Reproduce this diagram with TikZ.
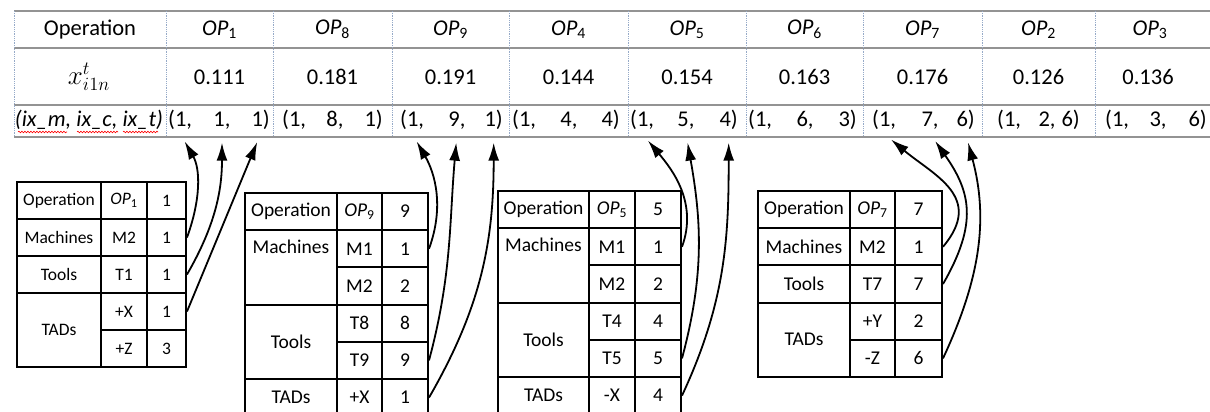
\documentclass[tikz,border=0pt]{standalone}
\usepackage{fontspec}
\setmainfont{Carlito}
\usetikzlibrary{arrows.meta,decorations.pathmorphing}
\definecolor{gridblue}{RGB}{150,170,200}

\begin{document}
\begin{tikzpicture}[x=1pt,y=1pt,
  hdr/.style={font=\fontsize{22.5}{27}\selectfont, inner sep=2pt},
  trip/.style={hdr, text height=16pt, text depth=5pt},
  cell/.style={draw, line width=2pt, anchor=north west, inner sep=0pt, minimum height=37.2pt, font=\fontsize{19.5}{23}\selectfont},
  smallcell/.style={cell, minimum height=37pt, font=\fontsize{17.5}{21}\selectfont},
  topcell/.style={text height=13pt, text depth=41.2pt},
  link/.style={-{Latex[length=18pt,width=11pt]}, line width=1.8pt, shorten >=9pt},
  rule/.style={gray!85, line width=1.5pt},
  sep/.style={densely dotted, gridblue, line width=0.8pt},
  squiggle/.style={red, line width=0.6pt, decorate, decoration={snake, amplitude=0.8pt, segment length=3pt}}]

\useasboundingbox (0,0) rectangle (1210,-412);
\clip (0,0) rectangle (1210,-412);

% top table
\draw [rule] (14,-11) -- (1210,-11);
\draw [rule] (14,-48) -- (1210,-48);
\draw [rule, line width=2.2pt] (14,-105) -- (1210,-105);
\draw [rule] (14,-137) -- (1210,-137);

\draw [sep] (14,-11) -- (14,-137);
\draw [sep] (166,-11) -- (166,-137);
\draw [sep] (273,-11) -- (273,-137);
\draw [sep] (392,-11) -- (392,-137);
\draw [sep] (509,-11) -- (509,-137);
\draw [sep] (628,-11) -- (628,-137);
\draw [sep] (746,-11) -- (746,-137);
\draw [sep] (863,-11) -- (863,-137);
\draw [sep] (982,-11) -- (982,-137);
\draw [sep] (1095,-11) -- (1095,-137);

\node [hdr] (opr) at (90,-29.5) {Operation};
\node [hdr] (op1) at (219.5,-29.5) {\textit{OP}\textsubscript{1}};
\node [hdr] (op8) at (332.5,-29.5) {\textit{OP}\textsubscript{8}};
\node [hdr] (op9) at (450.5,-29.5) {\textit{OP}\textsubscript{9}};
\node [hdr] (op4) at (568.5,-29.5) {\textit{OP}\textsubscript{4}};
\node [hdr] (op5) at (687,-29.5) {\textit{OP}\textsubscript{5}};
\node [hdr] (op6) at (804.5,-29.5) {\textit{OP}\textsubscript{6}};
\node [hdr] (op7) at (922.5,-29.5) {\textit{OP}\textsubscript{7}};
\node [hdr] (op2) at (1038.5,-29.5) {\textit{OP}\textsubscript{2}};
\node [hdr] (op3) at (1150,-29.5) {\textit{OP}\textsubscript{3}};

\node [hdr, scale=1.3] (xval) at (89,-77) {$x^{t}_{i1n}$};
\node [hdr] (v1) at (219.5,-77) {0.111};
\node [hdr] (v8) at (332.5,-77) {0.181};
\node [hdr] (v9) at (450.5,-77) {0.191};
\node [hdr] (v4) at (568.5,-77) {0.144};
\node [hdr] (v5) at (687,-77) {0.154};
\node [hdr] (v6) at (804.5,-77) {0.163};
\node [hdr] (v7) at (922.5,-77) {0.176};
\node [hdr] (v2) at (1038.5,-77) {0.126};
\node [hdr] (v3) at (1148,-77) {0.136};

\node [trip] (ixh) at (89,-121) {\textit{(ix\_m, ix\_c, ix\_t)}};
\draw [squiggle] (18,-132) -- (67,-132);
\draw [squiggle] (77,-132) -- (118,-132);
\draw [squiggle] (123,-132) -- (158,-132);

\node [trip, anchor=west] (c1a) at (166,-121) {(1,};
\node [trip] (c1b) at (222,-121) {1,};
\node [trip, anchor=east] (c1c) at (272,-121) {1)};
\node [trip, anchor=west] (c2a) at (280,-121) {(1,};
\node [trip] (c2b) at (335,-121) {8,};
\node [trip, anchor=east] (c2c) at (385,-121) {1)};
\node [trip, anchor=west] (c3a) at (398,-121) {(1,};
\node [trip] (c3b) at (457,-121) {9,};
\node [trip, anchor=east] (c3c) at (505,-121) {1)};
\node [trip, anchor=west] (c4a) at (510,-121) {(1,};
\node [trip] (c4b) at (569,-121) {4,};
\node [trip, anchor=east] (c4c) at (622,-121) {4)};
\node [trip, anchor=west] (c5a) at (628,-121) {(1,};
\node [trip] (c5b) at (686,-121) {5,};
\node [trip, anchor=east] (c5c) at (740,-121) {4)};
\node [trip, anchor=west] (c6a) at (746,-121) {(1,};
\node [trip] (c6b) at (805,-121) {6,};
\node [trip, anchor=east] (c6c) at (859,-121) {3)};
\node [trip, anchor=west] (c7a) at (870,-121) {(1,};
\node [trip] (c7b) at (930,-121) {7,};
\node [trip, anchor=east] (c7c) at (977,-121) {6)};
\node [trip, anchor=west] (c8a) at (995,-121) {(1,};
\node [trip] (c8b) at (1047,-121) {2,};
\node [trip, anchor=east] (c8c) at (1082,-121) {6)};
\node [trip, anchor=west] (c9a) at (1103,-121) {(1,};
\node [trip] (c9b) at (1158,-121) {3,};
\node [trip, anchor=east] (c9c) at (1209,-121) {6)};

% table of OP1
\node [smallcell, minimum width=84pt] (aOp) at (16,-181) {Operation};
\node [smallcell, minimum width=46pt] (aOpName) at (100,-181) {\textit{OP}\textsubscript{1}};
\node [smallcell, minimum width=39pt] (aOpNo) at (146,-181) {1};
\node [smallcell, minimum width=84pt] (aMach) at (16,-218) {Machines};
\node [smallcell, minimum width=46pt] (aM2) at (100,-218) {M2};
\node [smallcell, minimum width=39pt] (aM2No) at (146,-218) {1};
\node [smallcell, minimum width=84pt] (aTool) at (16,-255) {Tools};
\node [smallcell, minimum width=46pt] (aT1) at (100,-255) {T1};
\node [smallcell, minimum width=39pt] (aT1No) at (146,-255) {1};
\node [smallcell, minimum width=84pt, minimum height=74pt] (aTad) at (16,-292) {TADs};
\node [smallcell, minimum width=46pt] (aX) at (100,-292) {+X};
\node [smallcell, minimum width=39pt] (aXNo) at (146,-292) {1};
\node [smallcell, minimum width=46pt] (aZ) at (100,-329) {+Z};
\node [smallcell, minimum width=39pt] (aZNo) at (146,-329) {3};

% table of OP9
\node [cell, minimum width=92pt] (bOp) at (244,-192) {Operation};
\node [cell, minimum width=45pt] (bOpName) at (336,-192) {\textit{OP}\textsubscript{9}};
\node [cell, minimum width=46pt] (bOpNo) at (381,-192) {9};
\node [cell, topcell, minimum width=92pt, minimum height=74.4pt] (bMach) at (244,-229.2) {Machines};
\node [cell, minimum width=45pt] (bM1) at (336,-229.2) {M1};
\node [cell, minimum width=46pt] (bM1No) at (381,-229.2) {1};
\node [cell, minimum width=45pt] (bM2) at (336,-266.4) {M2};
\node [cell, minimum width=46pt] (bM2No) at (381,-266.4) {2};
\node [cell, minimum width=92pt, minimum height=74.4pt] (bTool) at (244,-303.6) {Tools};
\node [cell, minimum width=45pt] (bT8) at (336,-303.6) {T8};
\node [cell, minimum width=46pt] (bT8No) at (381,-303.6) {8};
\node [cell, minimum width=45pt] (bT9) at (336,-340.8) {T9};
\node [cell, minimum width=46pt] (bT9No) at (381,-340.8) {9};
\node [cell, minimum width=92pt] (bTad) at (244,-378) {TADs};
\node [cell, minimum width=45pt] (bX) at (336,-378) {+X};
\node [cell, minimum width=46pt] (bXNo) at (381,-378) {1};

% table of OP5
\node [cell, minimum width=91pt] (cOp) at (497,-190) {Operation};
\node [cell, minimum width=46pt] (cOpName) at (588,-190) {\textit{OP}\textsubscript{5}};
\node [cell, minimum width=46pt] (cOpNo) at (634,-190) {5};
\node [cell, topcell, minimum width=91pt, minimum height=74.4pt] (cMach) at (497,-227.2) {Machines};
\node [cell, minimum width=46pt] (cM1) at (588,-227.2) {M1};
\node [cell, minimum width=46pt] (cM1No) at (634,-227.2) {1};
\node [cell, minimum width=46pt] (cM2) at (588,-264.4) {M2};
\node [cell, minimum width=46pt] (cM2No) at (634,-264.4) {2};
\node [cell, minimum width=91pt, minimum height=74.4pt] (cTool) at (497,-301.6) {Tools};
\node [cell, minimum width=46pt] (cT4) at (588,-301.6) {T4};
\node [cell, minimum width=46pt] (cT4No) at (634,-301.6) {4};
\node [cell, minimum width=46pt] (cT5) at (588,-338.8) {T5};
\node [cell, minimum width=46pt] (cT5No) at (634,-338.8) {5};
\node [cell, minimum width=91pt] (cTad) at (497,-376) {TADs};
\node [cell, minimum width=46pt] (cX) at (588,-376) {-X};
\node [cell, minimum width=46pt] (cXNo) at (634,-376) {4};

% table of OP7
\node [cell, minimum width=92pt] (dOp) at (757,-190) {Operation};
\node [cell, minimum width=45pt] (dOpName) at (849,-190) {\textit{OP}\textsubscript{7}};
\node [cell, minimum width=47pt] (dOpNo) at (894,-190) {7};
\node [cell, minimum width=92pt] (dMach) at (757,-227.2) {Machines};
\node [cell, minimum width=45pt] (dM2) at (849,-227.2) {M2};
\node [cell, minimum width=47pt] (dM2No) at (894,-227.2) {1};
\node [cell, minimum width=92pt] (dTool) at (757,-264.4) {Tools};
\node [cell, minimum width=45pt] (dT7) at (849,-264.4) {T7};
\node [cell, minimum width=47pt] (dT7No) at (894,-264.4) {7};
\node [cell, minimum width=92pt, minimum height=74.4pt] (dTad) at (757,-301.6) {TADs};
\node [cell, minimum width=45pt] (dY) at (849,-301.6) {+Y};
\node [cell, minimum width=47pt] (dYNo) at (894,-301.6) {2};
\node [cell, minimum width=45pt] (dZ) at (849,-338.8) {-Z};
\node [cell, minimum width=47pt] (dZNo) at (894,-338.8) {6};

% arrows to the index triples
\draw [link] (aM2No.east) to [out=70, in=-60] (c1a.south);
\draw [link] (aT1No.east) to [out=60, in=-90] (c1b.south);
\draw [link] (aXNo.east) -- (c1c.south);

\draw [link] (bM1No.east) to [out=70, in=-60] (c3a.south);
\draw [link] (bT9No.east) to [out=75, in=-95] (c3b.south);
\draw [link] (bXNo.east) to [out=60, in=-90] (c3c.south);

\draw [link] (cM1No.east) to [out=70, in=-50] (c5a.south);
\draw [link] (cT5No.east) to [out=75, in=-80] (c5b.south);
\draw [link] (cXNo.east) to [out=65, in=-90] (c5c.south);

\draw [link] (dM2No.east) to [out=50, in=-40, looseness=1.3] (c7a.south);
\draw [link] (dT7No.east) to [out=60, in=-55, looseness=1.2] (c7b.south);
\draw [link] (dZNo.east) to [out=65, in=-75] (c7c.south);

\end{tikzpicture}
\end{document}
